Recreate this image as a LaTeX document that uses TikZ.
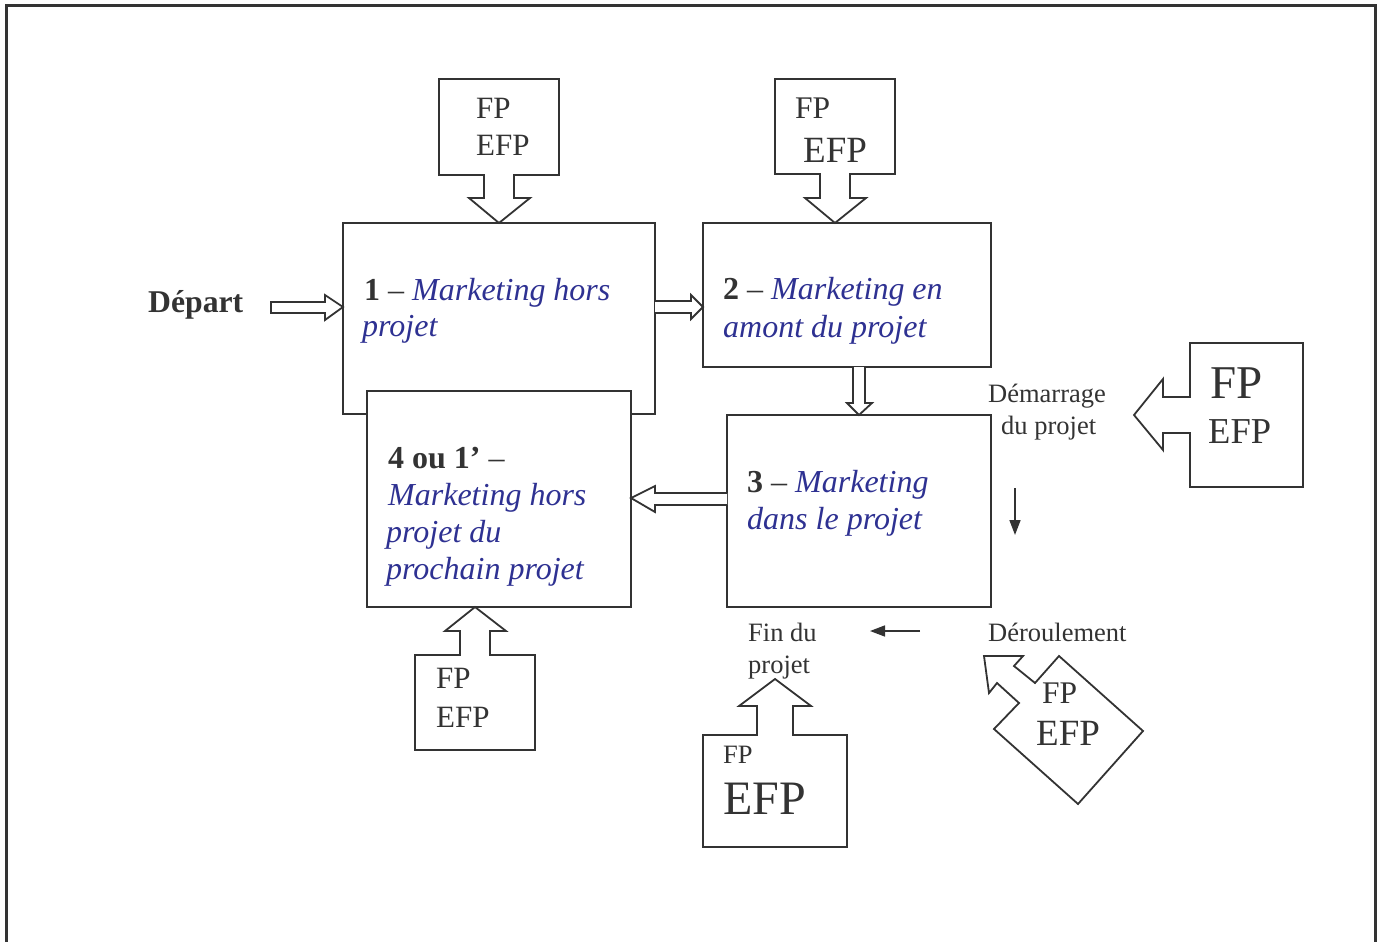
\documentclass[tikz,border=0pt]{standalone}
\usepackage{fontspec}
\setmainfont{Liberation Serif}
\usetikzlibrary{arrows.meta}
\definecolor{ink}{RGB}{51,51,51}
\definecolor{blu}{RGB}{46,49,146}
\tikzset{
  ln/.style={draw=ink, line width=1.8pt, line join=miter},
  shp/.style={ln, fill=white},
  box/.style={shp, rectangle, inner sep=0pt},
  txt/.style={anchor=base west, inner sep=0pt, text=ink},
  bt/.style={txt, font=\fontsize{32}{36}\selectfont},
  lbl/.style={txt, font=\fontsize{26.5}{30}\selectfont},
  thin/.style={draw=ink, line width=1.6pt, -{Triangle[length=15pt,width=11pt]}},
}
\newcommand{\bl}[1]{\textcolor{blu}{\textit{#1}}}
\begin{document}
\begin{tikzpicture}[x=1pt,y=-1pt]
\useasboundingbox (0,0) rectangle (1377,942);
% outer frame
\draw[draw=ink, line width=3pt] (6,942) -- (6,6) -- (1375,6) -- (1375,942);

% boxes
\node[box, minimum width=312pt, minimum height=191pt] (b1) at (499,318.5) {};
\node[box, minimum width=288pt, minimum height=144pt] (b2) at (847,295) {};
\node[box, minimum width=264pt, minimum height=192pt] (b3) at (859,511) {};
\node[box, minimum width=264pt, minimum height=216pt] (b4) at (499,499) {};

% block arrows between boxes
\draw[shp] (271,302) -- (325,302) -- (325,295) -- (343,307) -- (325,320) -- (325,313) -- (271,313) -- cycle;
\draw[shp] (655,301) -- (691,301) -- (691,295) -- (703,307) -- (691,319) -- (691,313) -- (655,313);
\draw[shp] (853,367) -- (853,403) -- (847,403) -- (859,415) -- (872,403) -- (865,403) -- (865,367);
\draw[shp] (727,493) -- (655,493) -- (655,486) -- (631,498) -- (655,512) -- (655,505) -- (727,505);

% callouts
\draw[shp] (439,79) -- (559,79) -- (559,175) -- (514,175) -- (514,198) -- (530,198) -- (499,223) -- (469,198) -- (484,198) -- (484,175) -- (439,175) -- cycle;
\draw[shp] (775,79) -- (895,79) -- (895,174) -- (850,174) -- (850,198) -- (866,198) -- (835,223) -- (805,198) -- (820,198) -- (820,174) -- (775,174) -- cycle;
\draw[shp] (1190,343) -- (1303,343) -- (1303,487) -- (1190,487) -- (1190,433) -- (1163,433) -- (1163,450) -- (1134,415) -- (1163,379) -- (1163,397) -- (1190,397) -- cycle;
\draw[shp] (984,656) -- (1023,656) -- (1014,666) -- (1035,683) -- (1059,656) -- (1143,731) -- (1078,804) -- (994,729) -- (1019,703) -- (997,683) -- (989,693) -- cycle;
\draw[shp] (703,735) -- (757,735) -- (757,706) -- (739,706) -- (775,679) -- (811,706) -- (793,706) -- (793,735) -- (847,735) -- (847,847) -- (703,847) -- cycle;
\draw[shp] (415,655) -- (460,655) -- (460,631) -- (445,631) -- (475,607) -- (506,631) -- (490,631) -- (490,655) -- (535,655) -- (535,750) -- (415,750) -- cycle;

% thin arrows
\coordinate (da) at (1015,488);
\coordinate (db) at (1015,535);
\coordinate (la) at (920,631);
\coordinate (lb) at (870,631);
\draw[thin] (da) -- (db);
\draw[thin] (la) -- (lb);

% callout texts
\node[txt, font=\fontsize{31}{34}\selectfont] (c1a) at (476,118) {FP};
\node[txt, font=\fontsize{31}{34}\selectfont] (c1b) at (476,155) {EFP};
\node[txt, font=\fontsize{31.5}{34}\selectfont] (c2a) at (795,118) {FP};
\node[txt, font=\fontsize{37}{40}\selectfont] (c2b) at (803,162) {EFP};
\node[txt, font=\fontsize{47}{50}\selectfont] (c3a) at (1210,398) {FP};
\node[txt, font=\fontsize{36.5}{40}\selectfont] (c3b) at (1208,443) {EFP};
\node[txt, font=\fontsize{31.5}{34}\selectfont] (c4a) at (1042,703) {FP};
\node[txt, font=\fontsize{37}{40}\selectfont] (c4b) at (1036,745) {EFP};
\node[txt, font=\fontsize{26.5}{30}\selectfont] (c5a) at (723,763) {FP};
\node[txt, font=\fontsize{48}{52}\selectfont] (c5b) at (723,814) {EFP};
\node[txt, font=\fontsize{31}{34}\selectfont] (c6a) at (436,688) {FP};
\node[txt, font=\fontsize{31}{34}\selectfont] (c6b) at (436,727) {EFP};

% labels
\node[txt, font=\fontsize{31.7}{34}\selectfont\bfseries] (dep) at (148,312) {Départ};
\node[lbl] (dem1) at (988,402) {Démarrage};
\node[lbl] (dem2) at (1001,434) {du projet};
\node[lbl] (der) at (988,641) {Déroulement};
\node[lbl] (fin1) at (748,641) {Fin du};
\node[lbl] (fin2) at (748,673) {projet};

% box texts
\node[bt] (t1a) at (364,300) {\textbf{1} – \bl{Marketing hors}};
\node[bt] (t1b) at (362,336) {\bl{projet}};
\node[bt] (t2a) at (723,299) {\textbf{2} – \bl{Marketing en}};
\node[bt] (t2b) at (723,337) {\bl{amont du projet}};
\node[bt] (t3a) at (747,492) {\textbf{3} – \bl{Marketing}};
\node[bt] (t3b) at (747,529) {\bl{dans le projet}};
\node[bt] (t4a) at (388,468) {\textbf{4 ou 1’} –};
\node[bt] (t4b) at (388,505) {\bl{Marketing hors}};
\node[bt] (t4c) at (386,542) {\bl{projet du}};
\node[bt] (t4d) at (386,579) {\bl{prochain projet}};
\end{tikzpicture}
\end{document}
